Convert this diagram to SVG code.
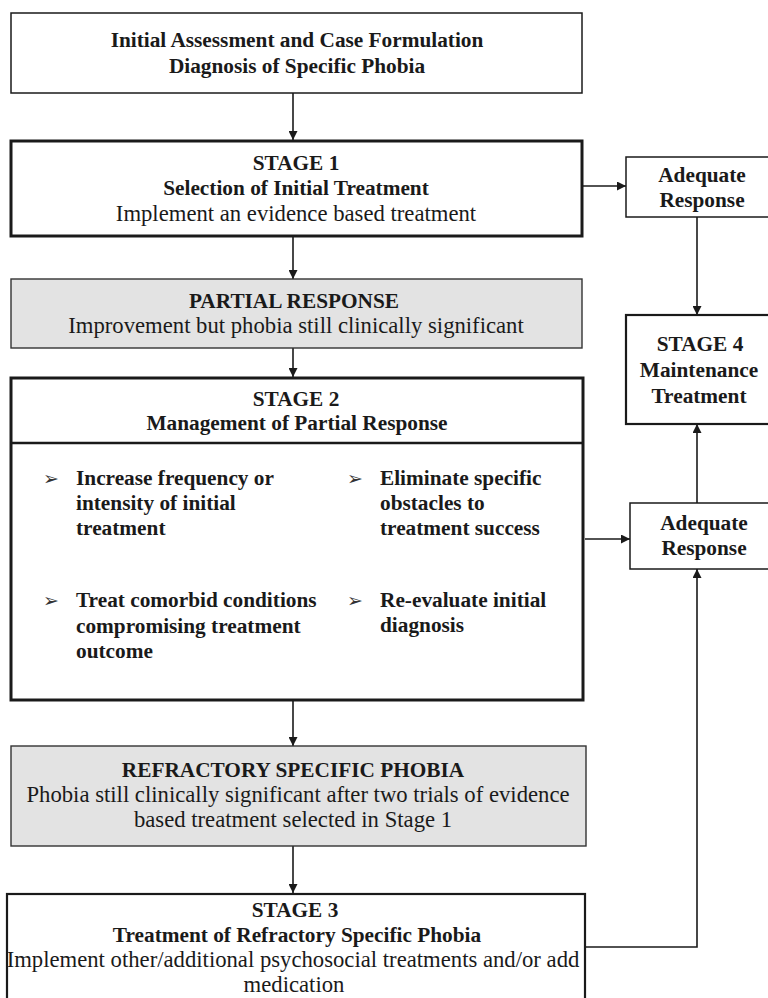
<svg xmlns="http://www.w3.org/2000/svg" width="768" height="998" viewBox="0 0 768 998">
  <defs>
    <marker id="arrow" viewBox="0 0 10 10" refX="10" refY="5" markerWidth="9" markerHeight="9" markerUnits="userSpaceOnUse" orient="auto">
      <path d="M0,0 L10,5 L0,10 z" fill="#1a1a1a"/>
    </marker>
    <style>
      .box { fill: #ffffff; stroke: #1a1a1a; stroke-width: 1.5; }
      .thick { fill: #ffffff; stroke: #1a1a1a; stroke-width: 3; }
      .mid { fill: #ffffff; stroke: #1a1a1a; stroke-width: 2.2; }
      .grey { fill: #e3e3e3; stroke: #333333; stroke-width: 1.4; }
      .edge { fill: none; stroke: #1a1a1a; stroke-width: 1.6; marker-end: url(#arrow); }
      text { font-family: "Liberation Serif", "Times New Roman", serif; fill: #1a1a1a; }
      .b { font-weight: bold; font-size: 21.3px; }
      .r { font-size: 22.7px; }
      .c { text-anchor: middle; }
      .bul { font-family: "DejaVu Sans", sans-serif; font-size: 19px; fill: #333333; }
    </style>
  </defs>

  <!-- connectors -->
  <g id="connectors">
    <line class="edge" x1="293" y1="93" x2="293" y2="140"/>
    <line class="edge" x1="293" y1="237" x2="293" y2="279"/>
    <line class="edge" x1="293" y1="348" x2="293" y2="377"/>
    <line class="edge" x1="583" y1="186" x2="626" y2="186"/>
    <line class="edge" x1="697" y1="217" x2="697" y2="315"/>
    <line class="edge" x1="585" y1="539" x2="630" y2="539"/>
    <line class="edge" x1="697" y1="503" x2="697" y2="424"/>
    <line class="edge" x1="293" y1="700" x2="293" y2="746"/>
    <line class="edge" x1="293" y1="846" x2="293" y2="893"/>
    <polyline class="edge" points="586,947 697,947 697,569"/>
  </g>

  <!-- initial assessment -->
  <g id="assessment">
    <rect class="box" x="11" y="13" width="571" height="80"/>
    <text class="b c" x="297" y="47">Initial Assessment and Case Formulation</text>
    <text class="b c" x="297" y="73">Diagnosis of Specific Phobia</text>
  </g>

  <!-- stage 1 -->
  <g id="stage1">
    <rect class="thick" x="11" y="141" width="571" height="95"/>
    <text class="b c" x="296" y="170">STAGE 1</text>
    <text class="b c" x="296" y="195">Selection of Initial Treatment</text>
    <text class="r c" x="296" y="221">Implement an evidence based treatment</text>
  </g>

  <!-- adequate response (after stage 1) -->
  <g id="adequate1">
    <rect class="box" x="626" y="157" width="160" height="60"/>
    <text class="b c" x="702" y="182">Adequate</text>
    <text class="b c" x="702" y="207">Response</text>
  </g>

  <!-- partial response -->
  <g id="partial">
    <rect class="grey" x="11" y="279" width="571" height="69"/>
    <text class="b c" x="294" y="308">PARTIAL RESPONSE</text>
    <text class="r c" x="296" y="333">Improvement but phobia still clinically significant</text>
  </g>

  <!-- stage 4 -->
  <g id="stage4">
    <rect class="mid" x="626" y="315" width="160" height="109"/>
    <text class="b c" x="700" y="351">STAGE 4</text>
    <text class="b c" x="699" y="377">Maintenance</text>
    <text class="b c" x="699" y="403">Treatment</text>
  </g>

  <!-- stage 2 -->
  <g id="stage2">
    <rect class="thick" x="11" y="378" width="572" height="322"/>
    <line x1="11" y1="443" x2="583" y2="443" stroke="#1a1a1a" stroke-width="2.6"/>
    <text class="b c" x="296" y="406">STAGE 2</text>
    <text class="b c" x="297" y="430">Management of Partial Response</text>

    <text class="bul" x="43" y="485">➢</text>
    <text class="b" x="76" y="485">Increase frequency or</text>
    <text class="b" x="76" y="510">intensity of initial</text>
    <text class="b" x="76" y="535">treatment</text>

    <text class="bul" x="347" y="485">➢</text>
    <text class="b" x="380" y="485">Eliminate specific</text>
    <text class="b" x="380" y="510">obstacles to</text>
    <text class="b" x="380" y="535">treatment success</text>

    <text class="bul" x="43" y="607">➢</text>
    <text class="b" x="76" y="607">Treat comorbid conditions</text>
    <text class="b" x="76" y="633">compromising treatment</text>
    <text class="b" x="76" y="658">outcome</text>

    <text class="bul" x="347" y="607">➢</text>
    <text class="b" x="380" y="607">Re-evaluate initial</text>
    <text class="b" x="380" y="632">diagnosis</text>
  </g>

  <!-- adequate response (after stage 2 / stage 3) -->
  <g id="adequate2">
    <rect class="box" x="630" y="503" width="160" height="66"/>
    <text class="b c" x="704" y="530">Adequate</text>
    <text class="b c" x="704" y="555">Response</text>
  </g>

  <!-- refractory -->
  <g id="refractory">
    <rect class="grey" x="11" y="746" width="575" height="100"/>
    <text class="b c" x="293" y="777">REFRACTORY SPECIFIC PHOBIA</text>
    <text class="r c" x="298" y="802">Phobia still clinically significant after two trials of evidence</text>
    <text class="r c" x="293" y="827">based treatment selected in Stage 1</text>
  </g>

  <!-- stage 3 -->
  <g id="stage3">
    <rect class="mid" x="7" y="894" width="578" height="110"/>
    <text class="b c" x="295" y="917">STAGE 3</text>
    <text class="b c" x="297" y="942">Treatment of Refractory Specific Phobia</text>
    <text class="r c" x="293" y="967">Implement other/additional psychosocial treatments and/or add</text>
    <text class="r c" x="294" y="992">medication</text>
  </g>
</svg>
